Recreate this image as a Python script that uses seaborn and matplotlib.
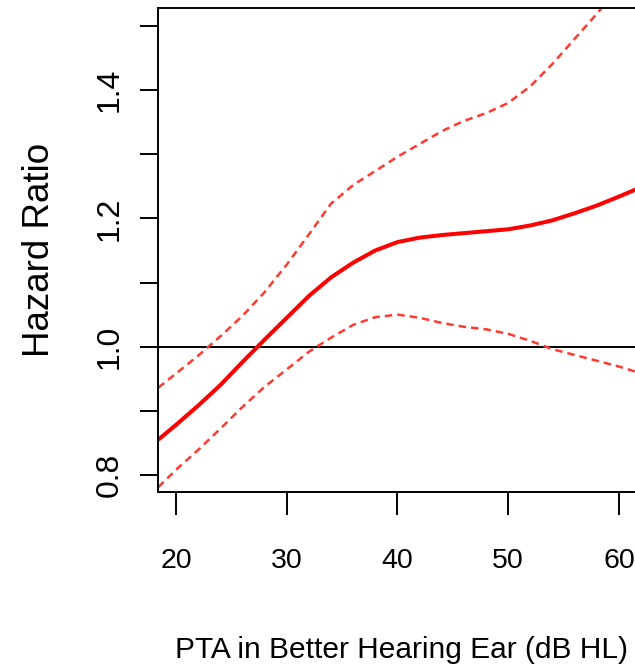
import matplotlib
matplotlib.use("Agg")
import matplotlib.pyplot as plt
import seaborn as sns

# PTA values (dB HL) at which curves were read
pta = [18.4, 20, 22, 24, 26, 28, 30, 32, 34, 36, 38, 40, 42, 44, 46, 48, 50,
       52, 54, 56, 58, 60, 61.5]
hazard_ratio = [0.855, 0.878, 0.908, 0.940, 0.976, 1.011, 1.045, 1.079, 1.108,
                1.131, 1.150, 1.163, 1.170, 1.174, 1.177, 1.180, 1.183, 1.189,
                1.197, 1.208, 1.220, 1.234, 1.245]
upper_ci = [0.936, 0.958, 0.986, 1.016, 1.048, 1.085, 1.128, 1.175, 1.223,
            1.252, 1.274, 1.296, 1.316, 1.336, 1.352, 1.364, 1.380, 1.406,
            1.441, 1.480, 1.519, 1.561, 1.597]
lower_ci = [0.781, 0.808, 0.839, 0.872, 0.906, 0.9375, 0.9645, 0.992, 1.014,
            1.034, 1.046, 1.050, 1.045, 1.037, 1.031, 1.027, 1.020, 1.009,
            0.996, 0.987, 0.978, 0.969, 0.961]

x_ticks = [20, 30, 40, 50, 60]
y_ticks = [0.8, 0.9, 1.0, 1.1, 1.2, 1.3, 1.4, 1.5]
y_tick_labels = ["0.8", "", "1.0", "", "1.2", "", "1.4", ""]
reference_line = 1.0

sns.set_style("white")
plt.rcParams["font.family"] = ["Liberation Sans", "DejaVu Sans"]
plt.rcParams["text.color"] = "black"
plt.rcParams["axes.labelcolor"] = "black"
plt.rcParams["xtick.color"] = "black"
plt.rcParams["ytick.color"] = "black"

fig = plt.figure(figsize=(6.35, 6.70), dpi=100)
ax = fig.add_axes([158 / 635, 178 / 670, 522 / 635, 484 / 670])

sns.lineplot(x=pta, y=hazard_ratio, color="#ff0000", lw=2.9, ax=ax)
sns.lineplot(x=pta, y=upper_ci, color="#ff3a30", lw=1.8,
             linestyle=(0, (3.0, 2.0)), ax=ax)
sns.lineplot(x=pta, y=lower_ci, color="#ff3a30", lw=1.8,
             linestyle=(0, (3.0, 2.0)), ax=ax)
ax.axhline(reference_line, color="black", lw=1.4, zorder=1)

ax.set_xlim(18.375, 65.51)
ax.set_ylim(0.7734, 1.528)

ax.set_xticks(x_ticks)
ax.set_xticklabels([str(t) for t in x_ticks])
ax.set_yticks(y_ticks)
ax.set_yticklabels(y_tick_labels)
plt.setp(ax.get_yticklabels(), rotation=90, va="center")

ax.tick_params(axis="x", direction="out", length=16.5, width=1.4,
               pad=24, labelsize=20.5, colors="black", bottom=True)
ax.tick_params(axis="y", direction="out", length=13, width=1.4,
               pad=11, labelsize=23, colors="black", left=True)

for s in ax.spines.values():
    s.set_linewidth(1.4)
    s.set_color("black")

ax.set_xlabel("PTA in Better Hearing Ear (dB HL)", fontsize=21.5, color="black")
ax.set_ylabel("Hazard Ratio", fontsize=26.5, color="black")
ax.xaxis.set_label_coords((402 - 158) / 522, -0.297)
ax.yaxis.set_label_coords((57 - 158) / 522, 0.5)

fig.savefig("out.png", dpi=100)
